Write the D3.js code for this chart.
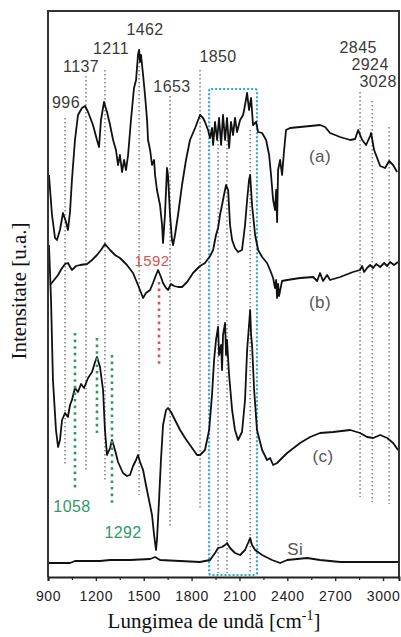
<!DOCTYPE html>
<meta charset="utf-8">
<script src="https://d3js.org/d3.v7.min.js"></script>
<style>
body { margin: 0; background: #fff; }
.peak { font-family: "Liberation Sans", Arial, sans-serif; font-size: 16px; letter-spacing: 0.4px; fill: #333; }
.tick text { font-family: "Liberation Sans", Arial, sans-serif; font-size: 14px; letter-spacing: 0.6px; fill: #222; }
</style>
<div id="chart"></div>
<script>
// wavenumber [cm-1], intensity [u.a.] (arbitrary, offset spectra)
var specA = [[906,402],[925,362],[944,339],[956,337],[975,347],[994,364],[1013,355],[1025,347],[1038,365],[1050,397],[1069,437],[1088,462],[1113,469],[1132,471],[1151,465],[1182,452],[1207,437],[1220,430],[1232,457],[1251,475],[1270,465],[1289,452],[1308,437],[1326,427],[1339,412],[1351,422],[1364,405],[1377,417],[1389,407],[1402,422],[1420,457],[1439,489],[1452,497],[1464,522],[1471,527],[1477,515],[1483,522],[1496,502],[1508,482],[1521,457],[1527,437],[1540,427],[1552,412],[1565,417],[1571,402],[1583,387],[1602,372],[1615,352],[1621,334],[1633,362],[1646,409],[1652,402],[1665,362],[1677,337],[1684,332],[1696,342],[1715,362],[1740,392],[1765,417],[1790,437],[1822,449],[1853,462],[1872,459],[1884,455],[1903,447],[1916,439],[1928,449],[1935,432],[1947,455],[1960,437],[1972,459],[1985,432],[1997,462],[2010,437],[2022,459],[2035,429],[2047,455],[2060,442],[2072,459],[2085,445],[2104,457],[2123,462],[2135,472],[2148,484],[2160,467],[2173,479],[2185,452],[2204,455],[2217,445],[2242,444],[2267,437],[2286,422],[2298,402],[2311,377],[2323,367],[2330,387],[2336,355],[2342,407],[2355,417],[2367,402],[2380,427],[2392,447],[2417,449],[2480,450],[2543,451],[2605,452],[2637,450],[2668,444],[2731,440],[2794,437],[2825,438],[2844,447],[2869,437],[2894,432],[2919,441],[2925,444],[2944,427],[2982,411],[3013,409],[3038,416],[3063,412],[3088,405]];

var specB = [[913,292],[938,297],[963,302],[988,309],[1007,313],[1025,314],[1050,307],[1076,311],[1101,312],[1145,313],[1176,317],[1207,322],[1232,327],[1257,333],[1289,327],[1320,322],[1351,319],[1395,312],[1433,304],[1464,292],[1496,279],[1514,284],[1540,287],[1558,294],[1577,302],[1590,307],[1608,300],[1621,294],[1640,289],[1652,287],[1671,293],[1690,291],[1715,290],[1740,290],[1772,295],[1809,304],[1853,311],[1884,314],[1916,321],[1935,327],[1953,342],[1966,349],[1978,362],[1991,372],[2003,382],[2016,392],[2029,387],[2041,352],[2054,337],[2072,329],[2091,325],[2116,327],[2135,352],[2148,377],[2160,397],[2167,402],[2179,372],[2198,342],[2217,327],[2242,320],[2273,314],[2292,307],[2311,299],[2323,289],[2330,297],[2336,279],[2342,293],[2348,281],[2367,296],[2399,297],[2480,299],[2562,300],[2587,296],[2605,304],[2624,296],[2649,302],[2668,297],[2731,300],[2812,305],[2856,307],[2869,311],[2881,305],[2900,309],[2919,312],[2938,309],[2957,313],[2982,310],[3007,314],[3026,311],[3044,315],[3069,312],[3094,315]];

var specC = [[906,332],[919,277],[931,197],[950,147],[963,130],[975,137],[988,157],[1007,164],[1025,160],[1038,172],[1050,177],[1069,189],[1088,185],[1107,193],[1126,189],[1151,199],[1176,205],[1195,215],[1207,220],[1226,210],[1245,187],[1257,147],[1270,122],[1289,129],[1301,137],[1320,127],[1339,115],[1370,104],[1395,101],[1414,102],[1433,111],[1452,117],[1464,122],[1477,115],[1496,107],[1514,92],[1533,77],[1552,62],[1565,42],[1577,27],[1583,37],[1596,77],[1608,117],[1621,152],[1640,167],[1652,169],[1671,165],[1696,157],[1728,147],[1759,139],[1790,132],[1834,122],[1853,122],[1884,127],[1910,147],[1928,182],[1941,217],[1953,237],[1966,250],[1972,222],[1985,232],[1991,207],[1997,242],[2010,254],[2016,222],[2022,237],[2035,202],[2054,167],[2072,147],[2091,137],[2116,145],[2135,177],[2148,227],[2160,252],[2167,267],[2173,242],[2179,232],[2192,187],[2210,147],[2242,127],[2273,117],[2292,119],[2311,112],[2336,114],[2367,119],[2399,124],[2480,134],[2543,140],[2605,144],[2687,145],[2794,147],[2856,144],[2900,140],[2938,139],[2982,142],[3026,139],[3063,134],[3094,127]];

var specSi = [[906,14],[1038,14],[1069,16],[1226,16],[1289,17],[1414,17],[1540,18],[1571,20],[1602,17],[1728,16],[1853,15],[1916,17],[1947,24],[1966,29],[1991,30],[2010,32],[2022,34],[2041,29],[2072,24],[2104,22],[2135,27],[2154,34],[2167,39],[2179,32],[2198,27],[2242,22],[2304,17],[2355,14],[2399,17],[2524,19],[2605,17],[2731,15],[2856,15],[3094,15]];

// dotted guide lines: [wavenumber, top, bottom]
var guideGray = [[1007,459,112],[1138,501,106],[1257,507,95],[1471,527,82],[1665,481,50],[1853,507,67],[1966,437,4],[2022,437,4],[2167,447,4],[2856,485,80],[2932,476,75],[3038,450,73]];
var guideGreen = [[1069,244,87],[1207,239,140],[1301,222,74]];
var guideRed = [[1596,295,212]];
var boxRange = [1910, 2210, 488, 2];

// labels: [text, wavenumber, intensity]
var peakLabels = [["996",1013,469],["1137",1107,505],["1211",1295,523],["1462",1508,542],["1653",1677,485],["1850",1966,515],["2845",2844,524],["2924",2919,507],["3028",2969,490]];
var greenLabels = [["1058",1050,65],["1292",1370,39]];
var redLabels = [["1592",1552,311]];
var curveLabels = [["(a)",2605,415],["(b)",2605,269],["(c)",2624,115],["Si",2449,22]];

var xTicks = [900,1200,1500,1800,2100,2400,2700,3000];
var xMinor = [1050,1350,1650,1950,2250,2550,2850];

var W = 401, H = 637;
var serif = "'Liberation Serif', 'DejaVu Serif', serif";
var svg = d3.select("#chart").append("svg").attr("width", W).attr("height", H);

var x = d3.scaleLinear().domain([900, 3100]).range([48, 399]);
var y = d3.scaleLinear().domain([0, 566]).range([577, 11]);

function guides(data, color, width, dash) {
    svg.append("g").selectAll("line")
        .data(data).enter().append("line")
        .attr("x1", function(d) { return x(d[0]); })
        .attr("x2", function(d) { return x(d[0]); })
        .attr("y1", function(d) { return y(d[1]); })
        .attr("y2", function(d) { return y(d[2]); })
        .attr("stroke", color)
        .attr("stroke-width", width)
        .attr("stroke-dasharray", dash);
}
guides(guideGray, "#777", 1.4, "1.4,2.6");

// blue dotted box
svg.append("rect")
    .attr("x", x(boxRange[0])).attr("y", y(boxRange[2]))
    .attr("width", x(boxRange[1]) - x(boxRange[0]))
    .attr("height", y(boxRange[3]) - y(boxRange[2]))
    .attr("rx", 2)
    .attr("fill", "none")
    .attr("stroke", "#2fa8d8")
    .attr("stroke-width", 2.2)
    .attr("stroke-dasharray", "2,2");

var line = d3.line()
    .x(function(d) { return x(d[0]); })
    .y(function(d) { return y(d[1]); });

[specA, specB, specC, specSi].forEach(function(s) {
    svg.append("path")
        .datum(s)
        .attr("d", line)
        .attr("fill", "none")
        .attr("stroke", "#111")
        .attr("stroke-width", 1.8)
        .attr("stroke-linejoin", "round");
});

guides(guideGreen, "#2e9a63", 2.6, "2.6,4");
guides(guideRed, "#d9534f", 2.6, "2.6,4");

function labels(data, color, size) {
    svg.append("g").selectAll("text")
        .data(data).enter().append("text")
        .attr("class", "peak")
        .attr("x", function(d) { return x(d[1]); })
        .attr("y", function(d) { return y(d[2]); })
        .attr("text-anchor", "middle")
        .style("fill", color)
        .style("font-size", size)
        .text(function(d) { return d[0]; });
}
labels(peakLabels, "#3a3a3a", "16px");
labels(greenLabels, "#2e9a63", "16px");
labels(redLabels, "#d9534f", "15px");
labels(curveLabels, "#555", "17px");

// frame
svg.append("path")
    .attr("d", "M" + x(900) + "," + y(0) + "V" + y(566) + "H" + x(3100) + "V" + y(0))
    .attr("fill", "none")
    .attr("stroke", "#333")
    .attr("stroke-width", 2);

// x axis
var xAxis = svg.append("g")
    .attr("transform", "translate(0," + y(0) + ")")
    .call(d3.axisBottom(x).tickValues(xTicks).tickSize(4).tickPadding(10).tickFormat(d3.format("d")));
xAxis.select(".domain").attr("stroke", "#222").attr("stroke-width", 2);
xAxis.selectAll(".tick line").attr("stroke", "#222").attr("stroke-width", 1.4);

svg.append("g")
    .attr("transform", "translate(0," + y(0) + ")")
    .call(d3.axisBottom(x).tickValues(xMinor).tickSize(3).tickFormat(""))
    .call(function(g) { g.select(".domain").remove(); })
    .selectAll(".tick line").attr("stroke", "#222").attr("stroke-width", 1.2);

// axis titles
var xt = svg.append("text")
    .style("font-family", serif).style("font-size", "21px").style("fill", "#111")
    .attr("x", 214).attr("y", 628).attr("text-anchor", "middle");
xt.append("tspan").text("Lungimea de undă [cm");
xt.append("tspan").attr("dy", -8).style("font-size", "14px").text("-1");
xt.append("tspan").attr("dy", 8).text("]");

svg.append("text")
    .style("font-family", serif).style("font-size", "21px").style("fill", "#111")
    .attr("transform", "translate(26,291) rotate(-90)")
    .attr("text-anchor", "middle")
    .text("Intensitate [u.a.]");
</script>
